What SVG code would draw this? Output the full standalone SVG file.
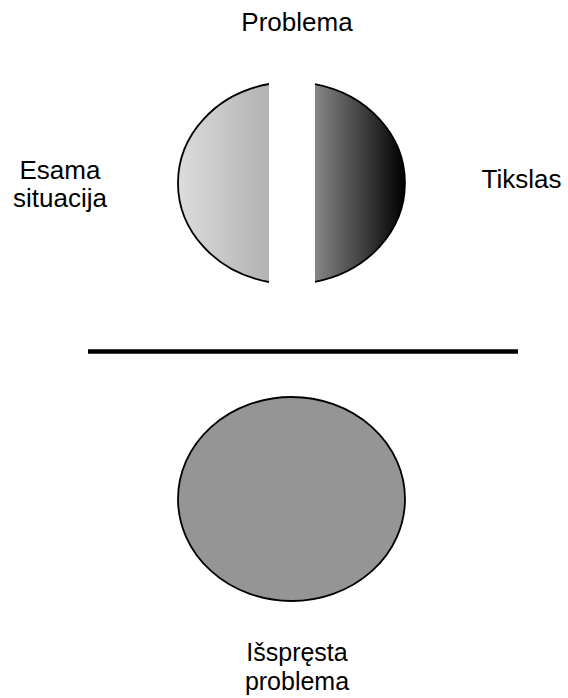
<svg xmlns="http://www.w3.org/2000/svg" width="568" height="698" viewBox="0 0 568 698">
  <style>
    .label { font-family: "Liberation Sans", Arial, sans-serif; font-size: 26px; fill: #000; text-anchor: middle; }
    .label.tight { font-size: 25px; }
    .outline { stroke: #000; stroke-width: 1.8; }
  </style>
  <defs>
    <linearGradient id="gradCurrent" gradientUnits="userSpaceOnUse" x1="178" y1="0" x2="269" y2="0">
      <stop offset="0" stop-color="#dcdcdc"/>
      <stop offset="1" stop-color="#b2b2b2"/>
    </linearGradient>
    <linearGradient id="gradGoal" gradientUnits="userSpaceOnUse" x1="315" y1="0" x2="405" y2="0">
      <stop offset="0" stop-color="#868686"/>
      <stop offset="1" stop-color="#000000"/>
    </linearGradient>
  </defs>
  <rect width="568" height="698" fill="#ffffff"/>

  <g id="problem-title">
    <text class="label" x="297" y="31">Problema</text>
  </g>

  <g id="current-situation">
    <path class="outline" fill="url(#gradCurrent)" d="M269,84 A113.5,101 0 0 0 269,282"/>
    <text class="label" x="60" y="179">Esama<tspan x="60" dy="28">situacija</tspan></text>
  </g>

  <g id="goal">
    <path class="outline" fill="url(#gradGoal)" d="M315,84.2 A113.5,101 0 0 1 315,281.8"/>
    <text class="label" x="521.5" y="188">Tikslas</text>
  </g>

  <g id="connectors">
    <line x1="88" y1="351.5" x2="518" y2="351.5" stroke="#000" stroke-width="4.5"/>
  </g>

  <g id="solved-problem">
    <ellipse class="outline" cx="291.5" cy="499" rx="113.5" ry="102" fill="#959595"/>
    <text class="label tight" x="297" y="661">Išspręsta<tspan x="297" dy="29">problema</tspan></text>
  </g>
</svg>
